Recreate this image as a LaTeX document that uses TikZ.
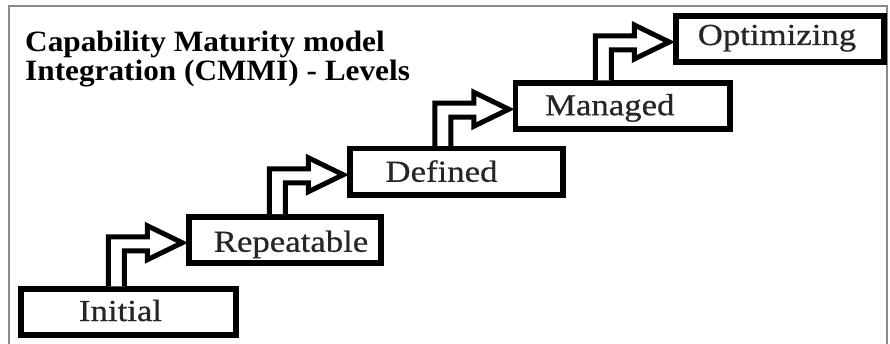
\documentclass[tikz,border=0pt]{standalone}
\usepackage{fontspec}
\setmainfont{Liberation Serif}
\newfontfamily\lblfont[FakeStretch=1.14, FakeBold=0.6]{Liberation Serif}
\newfontfamily\ttlfont[FakeStretch=1.06]{Liberation Serif}
\usetikzlibrary{calc}

\definecolor{framegray}{HTML}{8A8A8A}
\definecolor{ink}{HTML}{262626}

\tikzset{
  level/.style={draw=black, line width=5.5pt, fill=white, inner sep=0pt,
    minimum height=46pt},
  lbl/.style={anchor=base, inner sep=0pt, text=ink,
    font=\lblfont\fontsize{30.5}{32}\selectfont},
  ttl/.style={anchor=base west, inner sep=0pt, text=black,
    font=\ttlfont\bfseries\fontsize{29.5}{31}\selectfont},
  steparrow/.style={draw=black, line width=5pt, line join=miter, fill=white},
}

\begin{document}
\begin{tikzpicture}[x=1pt, y=1pt]
  \useasboundingbox (0,0) rectangle (890,343);
  \fill[white] (0,0) rectangle (890,343);

  % outer frame
  \draw[framegray, line width=1.6pt] (9,-10) -- (9,337) -- (887,337) -- (887,-10);

  % title
  \node[ttl] (title1) at (25,291) {Capability Maturity model};
  \node[ttl] (title2) at (25,262) {Integration (CMMI) - Levels};

  % maturity levels
  \node[level, minimum width=215pt]   (ini) at (128.5,31)    {};
  \node[level, minimum width=192pt]   (rep) at (285,103.25)  {};
  \node[level, minimum width=213pt]   (def) at (456.5,171.25){};
  \node[level, minimum width=214.5pt] (man) at (622.75,236.75){};
  \node[level, minimum width=208pt]   (opt) at (780,304)     {};

  % level names
  \node[lbl] (ini-t) at ($(ini.center)+(-8,-9)$)  {Initial};
  \node[lbl] (rep-t) at ($(rep.center)+(6,-12)$)  {Repeatable};
  \node[lbl] (def-t) at ($(def.center)+(-15,-10)$){Defined};
  \node[lbl] (man-t) at ($(man.center)+(-13,-9)$) {Managed};
  \node[lbl] (opt-t) at ($(opt.center)+(-3,-6)$)  {Optimizing};

  % hollow step arrows from each level up to the next
  \foreach \a/\b in {ini/rep, rep/def, def/man, man/opt}{
    \draw[steparrow] let \p1=(\b.west), \p2=(\a.north) in
      (\x1-78,\y2) -- (\x1-78,\y1+3) -- (\x1-39,\y1+3) -- (\x1-39,\y1+14)
      -- (\x1-4,\y1-3) -- (\x1-39,\y1-20) -- (\x1-39,\y1-11)
      -- (\x1-62,\y1-11) -- (\x1-62,\y2);
  }
\end{tikzpicture}
\end{document}
